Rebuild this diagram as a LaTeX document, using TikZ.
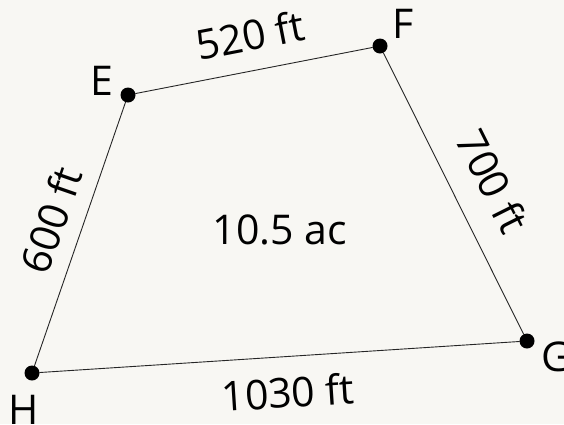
\documentclass[tikz,border=0pt]{standalone}
\usepackage{fontspec}
\setmainfont{Open Sans}
\usepackage{tikz}
\definecolor{sfondo}{RGB}{248,247,243}

\begin{document}
\begin{tikzpicture}[
    x=1pt,
    y=-1pt,
    line cap=round,
    line join=round,
    vertice/.style={circle,fill=black,inner sep=0pt,minimum size=15pt},
    etichetta/.style={font=\fontsize{41}{48}\selectfont,inner sep=0pt},
    lato/.style={black!85,line width=0.9pt}
]

% Sfondo
\fill[sfondo] (0,0) rectangle (564,424);
\useasboundingbox (0,0) rectangle (564,424);

% Vertici
\node[vertice] (E) at (128,95) {};
\node[vertice] (F) at (380,46) {};
\node[vertice] (G) at (527,341) {};
\node[vertice] (H) at (32,373) {};

% Lati
\draw[lato] (E) -- (F);
\draw[lato] (F) -- (G);
\draw[lato] (G) -- (H);
\draw[lato] (H) -- (E);

% Nomi dei vertici
\node[etichetta] (nE) at (102,81) {E};
\node[etichetta] (nF) at (403,24) {F};
\node[etichetta] (nG) at (556,357) {G};
\node[etichetta] (nH) at (24,410) {H};

% Lunghezze e area
\node[etichetta,rotate=11]    (lEF) at (250,35)  {520 ft};
\node[etichetta,rotate=-63.4] (lFG) at (493,181) {700 ft};
\node[etichetta,rotate=3.7]   (lGH) at (288,392) {1030 ft};
\node[etichetta,rotate=70.9]  (lHE) at (51,220)  {600 ft};
\node[etichetta]              (area) at (280,230) {10.5 ac};

\end{tikzpicture}
\end{document}
